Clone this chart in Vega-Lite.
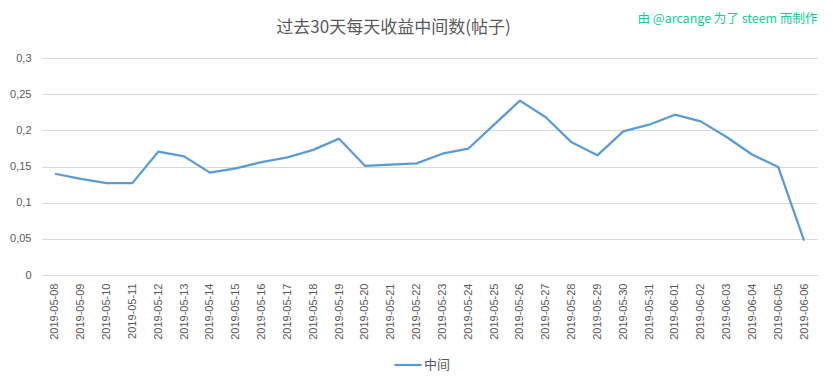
{
  "$schema": "https://vega.github.io/schema/vega-lite/v6.json",
  "autosize": {"type": "none"},
  "width": 775,
  "height": 217,
  "padding": {"left": 42, "top": 58, "right": 16, "bottom": 103},
  "background": "white",
  "config": {
    "view": {"stroke": null},
    "font": "Liberation Sans"
  },
  "data": {
    "values": [
      {"date": "2019-05-08", "value": 0.140, "series": "中间"},
      {"date": "2019-05-09", "value": 0.133, "series": "中间"},
      {"date": "2019-05-10", "value": 0.127, "series": "中间"},
      {"date": "2019-05-11", "value": 0.127, "series": "中间"},
      {"date": "2019-05-12", "value": 0.1705, "series": "中间"},
      {"date": "2019-05-13", "value": 0.164, "series": "中间"},
      {"date": "2019-05-14", "value": 0.1415, "series": "中间"},
      {"date": "2019-05-15", "value": 0.1475, "series": "中间"},
      {"date": "2019-05-16", "value": 0.156, "series": "中间"},
      {"date": "2019-05-17", "value": 0.1627, "series": "中间"},
      {"date": "2019-05-18", "value": 0.173, "series": "中间"},
      {"date": "2019-05-19", "value": 0.1885, "series": "中间"},
      {"date": "2019-05-20", "value": 0.151, "series": "中间"},
      {"date": "2019-05-21", "value": 0.1525, "series": "中间"},
      {"date": "2019-05-22", "value": 0.1543, "series": "中间"},
      {"date": "2019-05-23", "value": 0.1677, "series": "中间"},
      {"date": "2019-05-24", "value": 0.1746, "series": "中间"},
      {"date": "2019-05-25", "value": 0.2078, "series": "中间"},
      {"date": "2019-05-26", "value": 0.241, "series": "中间"},
      {"date": "2019-05-27", "value": 0.218, "series": "中间"},
      {"date": "2019-05-28", "value": 0.1834, "series": "中间"},
      {"date": "2019-05-29", "value": 0.1654, "series": "中间"},
      {"date": "2019-05-30", "value": 0.1986, "series": "中间"},
      {"date": "2019-05-31", "value": 0.2078, "series": "中间"},
      {"date": "2019-06-01", "value": 0.2216, "series": "中间"},
      {"date": "2019-06-02", "value": 0.2124, "series": "中间"},
      {"date": "2019-06-03", "value": 0.1908, "series": "中间"},
      {"date": "2019-06-04", "value": 0.1663, "series": "中间"},
      {"date": "2019-06-05", "value": 0.1493, "series": "中间"},
      {"date": "2019-06-06", "value": 0.0474, "series": "中间"}
    ]
  },
  "mark": {"type": "line", "strokeWidth": 2.25, "strokeJoin": "round"},
  "encoding": {
    "x": {
      "field": "date",
      "type": "ordinal",
      "sort": null,
      "scale": {"paddingInner": 1, "paddingOuter": 0.5},
      "axis": {
        "title": "由 @arcange 为了 steem 而制作",
        "titleFont": "Noto Sans CJK SC",
        "titleFontSize": 12.5,
        "titleFontWeight": "normal",
        "titleColor": "#14c99c",
        "titleX": 685,
        "titleY": -257,
        "titleAlign": "center",
        "titleBaseline": "middle",
        "titleAnchor": null,
        "labelAngle": 270,
        "labelAlign": "right",
        "labelBaseline": "middle",
        "labelPadding": 8,
        "labelFontSize": 11,
        "labelColor": "#595959",
        "labelFont": "Liberation Sans",
        "ticks": false,
        "domain": true,
        "domainColor": "#d9d9d9",
        "domainWidth": 1,
        "grid": false
      }
    },
    "y": {
      "field": "value",
      "type": "quantitative",
      "scale": {"domain": [0, 0.3], "nice": false},
      "axis": {
        "title": "过去30天每天收益中间数(帖子)",
        "titleFont": "Noto Sans CJK SC",
        "titleFontSize": 17,
        "titleFontWeight": "normal",
        "titleColor": "#595959",
        "titleAngle": 0,
        "titleX": 351,
        "titleY": -31,
        "titleAlign": "center",
        "titleBaseline": "middle",
        "titleAnchor": null,
        "values": [0, 0.05, 0.1, 0.15, 0.2, 0.25, 0.3],
        "labelExpr": "replace(format(datum.value, '.2~f'), '.', ',')",
        "labelFontSize": 11,
        "labelColor": "#595959",
        "labelPadding": 11,
        "ticks": false,
        "domain": false,
        "grid": true,
        "gridColor": "#d9d9d9",
        "gridWidth": 1
      }
    },
    "color": {
      "field": "series",
      "type": "nominal",
      "scale": {"range": ["#5b9bd5"]},
      "legend": {
        "title": null,
        "orient": "none",
        "legendX": 351,
        "legendY": 292,
        "symbolType": "stroke",
        "symbolSize": 729,
        "symbolStrokeWidth": 2.25,
        "labelFont": "Noto Sans CJK SC",
        "labelFontSize": 13,
        "labelColor": "#595959",
        "labelOffset": 1
      }
    }
  }
}
